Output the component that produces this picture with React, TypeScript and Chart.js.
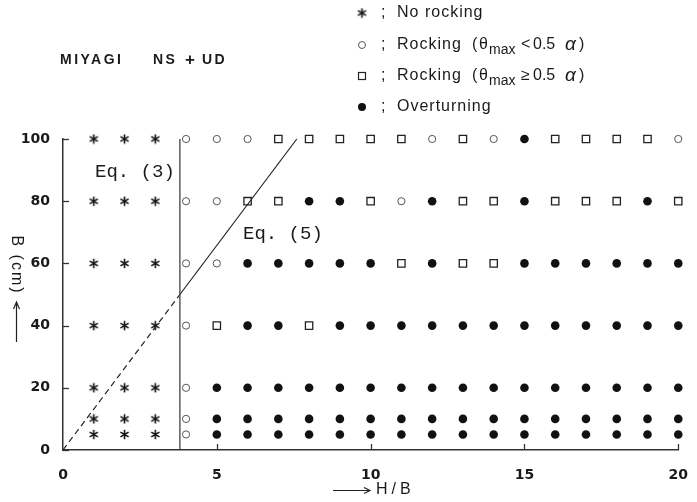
import React, { useEffect, useRef } from "react";
import { Chart, registerables } from "chart.js";
Chart.register(...registerables);

// H/B columns and B (cm) rows
const hbValues = [1, 2, 3, 4, 5, 6, 7, 8, 9, 10, 11, 12, 13, 14, 15, 16, 17, 18, 19, 20];
const bLevels = [100, 80, 60, 40, 20, 10, 5];
// N: no rocking, R: rocking (θmax<0.5α), S: rocking (θmax≥0.5α), O: overturning
const resultsB100 = ["N","N","N","R","R","R","S","S","S","S","S","R","S","R","O","S","S","S","S","R"];
const resultsB80  = ["N","N","N","R","R","S","S","O","O","S","R","O","S","S","O","S","S","S","O","S"];
const resultsB60  = ["N","N","N","R","R","O","O","O","O","O","S","O","S","S","O","O","O","O","O","O"];
const resultsB40  = ["N","N","N","R","S","O","O","S","O","O","O","O","O","O","O","O","O","O","O","O"];
const resultsB20  = ["N","N","N","R","O","O","O","O","O","O","O","O","O","O","O","O","O","O","O","O"];
const resultsB10  = ["N","N","N","R","O","O","O","O","O","O","O","O","O","O","O","O","O","O","O","O"];
const resultsB5   = ["N","N","N","R","O","O","O","O","O","O","O","O","O","O","O","O","O","O","O","O"];
const resultRows = [resultsB100, resultsB80, resultsB60, resultsB40, resultsB20, resultsB10, resultsB5];

const xTickValues = [0, 5, 10, 15, 20];
const yTickValues = [0, 20, 40, 60, 80, 100];
const eq3Line = [{ x: 3.8, y: 0 }, { x: 3.8, y: 100 }];
const eq5Dashed = [{ x: 0, y: 0 }, { x: 3.8, y: 50 }];
const eq5Solid = [{ x: 3.8, y: 50 }, { x: 7.6, y: 100 }];

function pointsFor(code: string) {
  const pts: { x: number; y: number }[] = [];
  resultRows.forEach((row, ri) => {
    row.forEach((c, ci) => {
      if (c === code) pts.push({ x: hbValues[ci], y: bLevels[ri] });
    });
  });
  return pts;
}

function makeAsterisk(size: number) {
  const c = document.createElement("canvas");
  c.width = size;
  c.height = size;
  const g = c.getContext("2d")!;
  g.strokeStyle = "#111";
  g.lineWidth = 1.6;
  g.lineCap = "butt";
  const cx = size / 2;
  const r = size / 2 - 0.8;
  for (let k = 0; k < 3; k++) {
    const a = Math.PI / 2 + (k * Math.PI) / 3;
    g.beginPath();
    g.moveTo(cx + r * Math.cos(a), cx + r * Math.sin(a));
    g.lineTo(cx - r * Math.cos(a), cx - r * Math.sin(a));
    g.stroke();
  }
  return c;
}

const SANS = '"Liberation Sans", Arial, sans-serif';
const MONO = '"Liberation Mono", "DejaVu Sans Mono", monospace';

export default function App() {
  const ref = useRef<HTMLCanvasElement>(null);
  useEffect(() => {
    const canvas = ref.current!;
    const asterisk = makeAsterisk(11);

    const annot = {
      id: "annot",
      afterDraw(chart: any) {
        const ctx: CanvasRenderingContext2D = chart.ctx;
        const xs = chart.scales.x;
        const ys = chart.scales.y;
        ctx.save();
        // inward ticks
        ctx.strokeStyle = "#333";
        ctx.lineWidth = 1.3;
        for (const v of yTickValues) {
          const py = Math.round(ys.getPixelForValue(v)) + 0.5;
          ctx.beginPath();
          ctx.moveTo(xs.left, py);
          ctx.lineTo(xs.left + 6, py);
          ctx.stroke();
        }
        for (const v of xTickValues) {
          if (v === 0) continue;
          const px = Math.round(xs.getPixelForValue(v)) + 0.5;
          ctx.beginPath();
          ctx.moveTo(px, ys.bottom);
          ctx.lineTo(px, ys.bottom - 6);
          ctx.stroke();
        }
        ctx.fillStyle = "#1a1a1a";
        ctx.textBaseline = "middle";
        ctx.textAlign = "left";
        // title
        ctx.font = `bold 14px ${SANS}`;
        (ctx as any).letterSpacing = "2.5px";
        ctx.fillText("MIYAGI", 60, 60);
        ctx.fillText("NS", 153, 60);
        ctx.fillText("UD", 202, 60);
        (ctx as any).letterSpacing = "0px";
        ctx.font = `bold 17px ${SANS}`;
        ctx.fillText("+", 185, 60);
        // legend
        const lx = 362;
        const rows = [13, 45, 76, 107];
        ctx.drawImage(asterisk, lx - 5.5, rows[0] - 5.5);
        ctx.lineWidth = 1;
        ctx.strokeStyle = "#555";
        ctx.beginPath();
        ctx.arc(lx, rows[1], 3.5, 0, Math.PI * 2);
        ctx.stroke();
        ctx.strokeStyle = "#222";
        ctx.lineWidth = 1.2;
        ctx.strokeRect(lx - 3.5, rows[2] - 3.5, 7, 7);
        ctx.fillStyle = "#111";
        ctx.beginPath();
        ctx.arc(lx, rows[3], 4, 0, Math.PI * 2);
        ctx.fill();
        ctx.fillStyle = "#1a1a1a";
        ctx.font = `16px ${SANS}`;
        (ctx as any).letterSpacing = "1px";
        for (const ry of rows) ctx.fillText(";", 381, ry);
        ctx.fillText("No rocking", 397, rows[0]);
        ctx.fillText("Overturning", 397, rows[3]);
        const drawRock = (ry: number, rel: string) => {
          ctx.font = `16px ${SANS}`;
          (ctx as any).letterSpacing = "1px";
          ctx.fillText("Rocking", 397, ry);
          (ctx as any).letterSpacing = "0px";
          ctx.fillText("(", 472, ry);
          ctx.fillText("θ", 479, ry);
          ctx.font = `14px ${SANS}`;
          ctx.fillText("max", 489, ry + 5);
          ctx.font = `16px ${SANS}`;
          ctx.fillText(rel, 521, ry);
          ctx.fillText("0.5", 533, ry);
          ctx.font = `italic 19px ${SANS}`;
          ctx.fillText("α", 565, ry);
          ctx.font = `16px ${SANS}`;
          ctx.fillText(")", 579, ry);
        };
        drawRock(rows[1], "<");
        drawRock(rows[2], "≥");
        // Eq labels
        (ctx as any).letterSpacing = "0px";
        ctx.font = `19px ${MONO}`;
        ctx.fillText("Eq. (3)", 95, 172);
        ctx.fillText("Eq. (5)", 243, 234);
        // axis titles
        ctx.font = `16px ${SANS}`;
        (ctx as any).letterSpacing = "2px";
        ctx.save();
        ctx.translate(16, 265);
        ctx.rotate(Math.PI / 2);
        ctx.textAlign = "center";
        ctx.fillText("B (cm)", 0, 0);
        ctx.restore();
        // up arrow
        ctx.strokeStyle = "#222";
        ctx.lineWidth = 1.2;
        ctx.beginPath();
        ctx.moveTo(16.5, 342);
        ctx.lineTo(16.5, 302);
        ctx.moveTo(13.5, 309);
        ctx.lineTo(16.5, 302);
        ctx.lineTo(19.5, 309);
        ctx.stroke();
        // right arrow + H/B
        ctx.beginPath();
        ctx.moveTo(333, 490.5);
        ctx.lineTo(370, 490.5);
        ctx.moveTo(364, 487.5);
        ctx.lineTo(370, 490.5);
        ctx.lineTo(364, 493.5);
        ctx.stroke();
        ctx.font = `16px ${SANS}`;
        (ctx as any).letterSpacing = "4px";
        ctx.textAlign = "left";
        ctx.fillText("H/B", 376, 490);
        ctx.restore();
      },
    };

    const chart = new Chart(canvas, {
      type: "scatter",
      data: {
        datasets: [
          { label: "eq3", data: eq3Line, showLine: true, borderColor: "#333", borderWidth: 1.2, pointRadius: 0, clip: false } as any,
          { label: "eq5d", data: eq5Dashed, showLine: true, borderColor: "#222", borderWidth: 1.2, borderDash: [6, 4], pointRadius: 0, clip: false },
          { label: "eq5s", data: eq5Solid, showLine: true, borderColor: "#222", borderWidth: 1.2, pointRadius: 0, clip: false },
          { label: "No rocking", data: pointsFor("N"), pointStyle: asterisk as any, pointRadius: 5, clip: false },
          { label: "Rocking small", data: pointsFor("R"), pointStyle: "circle", pointRadius: 3.6, borderColor: "#555", borderWidth: 1, backgroundColor: "rgba(255,255,255,1)", clip: false },
          { label: "Rocking large", data: pointsFor("S"), pointStyle: "rect", pointRadius: 5.2, borderColor: "#222", borderWidth: 1.3, backgroundColor: "rgba(255,255,255,1)", clip: false },
          { label: "Overturning", data: pointsFor("O"), pointStyle: "circle", pointRadius: 4.3, borderWidth: 0, backgroundColor: "#111", clip: false },
        ],
      },
      options: {
        animation: false,
        responsive: false,
        devicePixelRatio: 1,
        layout: { padding: { top: 139, right: 11, left: 0, bottom: 0 } },
        plugins: { legend: { display: false }, tooltip: { enabled: false } },
        scales: {
          x: {
            type: "linear",
            min: 0,
            max: 20,
            afterFit: (s: any) => { s.height = 52; },
            afterBuildTicks: (s: any) => { s.ticks = xTickValues.map((v) => ({ value: v })); },
            grid: { display: false },
            border: { display: true, color: "#333", width: 1.5 },
            ticks: { color: "#1a1a1a", font: { family: "DejaVu Sans", size: 14, weight: "bold" }, padding: 9, maxRotation: 0 },
          },
          y: {
            type: "linear",
            min: 0,
            max: 100,
            afterFit: (s: any) => { s.width = 63; },
            afterBuildTicks: (s: any) => { s.ticks = yTickValues.map((v) => ({ value: v })); },
            grid: { display: false },
            border: { display: true, color: "#333", width: 1.5 },
            ticks: { color: "#1a1a1a", font: { family: "DejaVu Sans", size: 14, weight: "bold" }, padding: 5 },
          },
        },
      },
      plugins: [annot],
    });
    return () => chart.destroy();
  }, []);
  return (
    <div style={{ position: "absolute", left: 0, top: 0, width: 697, height: 502, background: "#fff" }}>
      <canvas ref={ref} width={697} height={502} style={{ display: "block" }} />
    </div>
  );
}
